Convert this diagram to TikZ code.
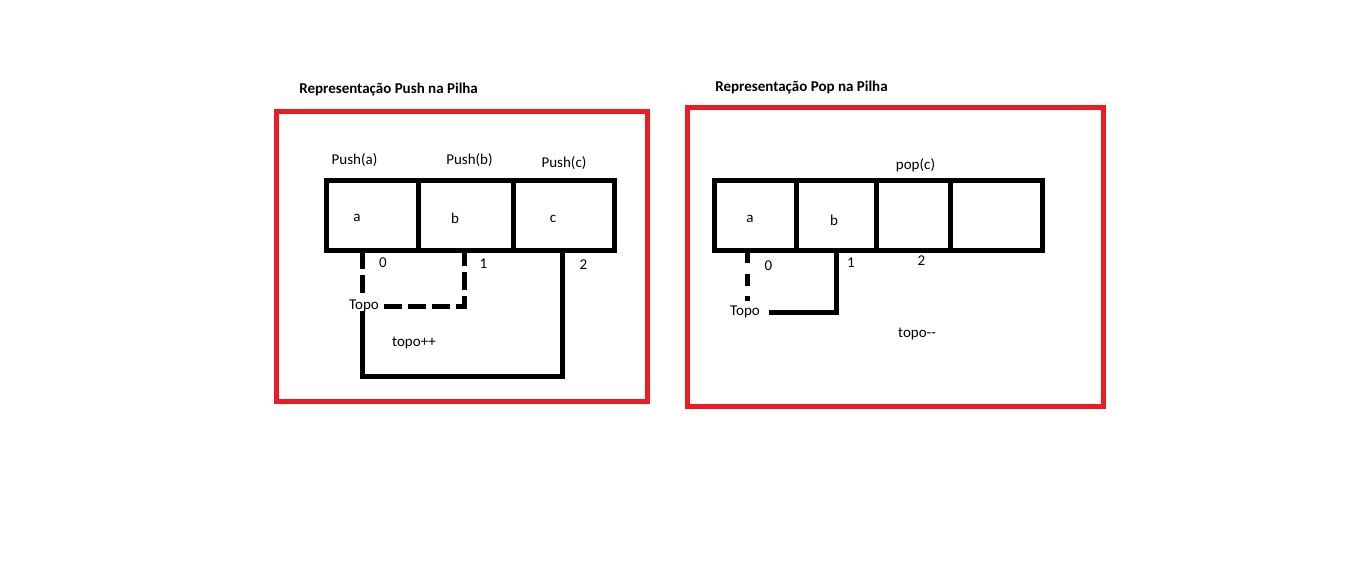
\documentclass[tikz,border=0pt]{standalone}
\usepackage{fontspec}
\setmainfont{Carlito}
\usetikzlibrary{positioning}
\definecolor{paintred}{RGB}{237,28,36}

\begin{document}
\begin{tikzpicture}[x=0.75pt, y=-0.75pt, font=\fontsize{11.25}{13}\selectfont,
		frame/.style={draw=paintred, line width=3.75pt},
		cell/.style={draw, line width=3.75pt, inner sep=0pt, outer sep=0pt, minimum height=52.5pt},
		title/.style={font=\fontsize{11.25}{13}\selectfont\bfseries, anchor=west, inner sep=0pt},
		dashline/.style={line width=3.75pt, dash pattern=on 13.5pt off 4.5pt},
		solidline/.style={line width=3.75pt}]
		\path[use as bounding box, fill=white] (0,0) rectangle (1358,561);
		
		% Define frames
		\draw[frame] (276.5,111.5) rectangle (647.5,401.5);
		\draw[frame] (687.5,107.5) rectangle (1103.5,406.5);
		\node[title] (Title_Push) at (299,89) {Representação Push na Pilha};
		\node[title] (Title_Pop) at (715,87.5) {Representação Pop na Pilha};
		
		% Define cells (push)
		\node[cell, minimum width=69.4pt, anchor=north west] (Push_A) at (326,180) {};
		\node[cell, minimum width=71.25pt, right=0pt of Push_A] (Push_B) {};
		\node[cell, minimum width=75.4pt, right=0pt of Push_B] (Push_C) {};
		\node (Val_PushA) at (357,218) {a};
		\node (Val_PushB) at (455,218) {b};
		\node (Val_PushC) at (553,219) {c};
		\node (Op_PushA) at (354.5,160) {Push(a)};
		\node (Op_PushB) at (469.5,160) {Push(b)};
		\node (Op_PushC) at (564,163) {Push(c)};
		\node (Idx_Push0) at (383,263) {0};
		\node (Idx_Push1) at (483.5,263.5) {1};
		\node (Idx_Push2) at (583.5,265) {2};
		\node (Topo_Push) at (364,306) {Topo};
		\node (Inc_Push) at (414,343) {topo++};
		\coordinate (PushLow0) at (362.5,251);
		\coordinate (PushLow1) at (464,251);
		\coordinate (PushLow2) at (562.5,251);
		\coordinate (PushCorner) at (362,376);
		
		% Define cells (pop)
		\node[cell, minimum width=61.9pt, anchor=north west] (Pop_A) at (714,180) {};
		\node[cell, minimum width=60.15pt, right=0pt of Pop_A] (Pop_B) {};
		\node[cell, minimum width=55.35pt, right=0pt of Pop_B] (Pop_C) {};
		\node[cell, minimum width=69pt, right=0pt of Pop_C] (Pop_D) {};
		\node (Val_PopA) at (750,219) {a};
		\node (Val_PopB) at (834,220.5) {b};
		\node (Op_PopC) at (915.5,165) {pop(c)};
		\node (Idx_Pop0) at (768.5,265.5) {0};
		\node (Idx_Pop1) at (851,262.5) {1};
		\node (Idx_Pop2) at (921.5,260.5) {2};
		\node (Topo_Pop) at (745,312) {Topo};
		\node (Dec_Pop) at (917,334) {topo-{}-};
		\coordinate (PopLow0) at (747.5,251);
		\coordinate (PopLow1) at (836,251);
		
		% Define pointers
		\draw[dashline] (PushLow0) -- (PushLow0 |- Topo_Push.north);
		\draw[dashline] (Topo_Push.east) -| (PushLow1);
		\draw[solidline, shorten <=-4.5pt] (Topo_Push.south -| PushCorner) -- (PushCorner) -| (PushLow2);
		\draw[dashline, dash pattern=on 9pt off 8pt] (PopLow0) -- (PopLow0 |- Topo_Pop.north);
		\draw[solidline, shorten <=3pt] (Topo_Pop.east) -| (PopLow1);
	\end{tikzpicture}
\end{document}
